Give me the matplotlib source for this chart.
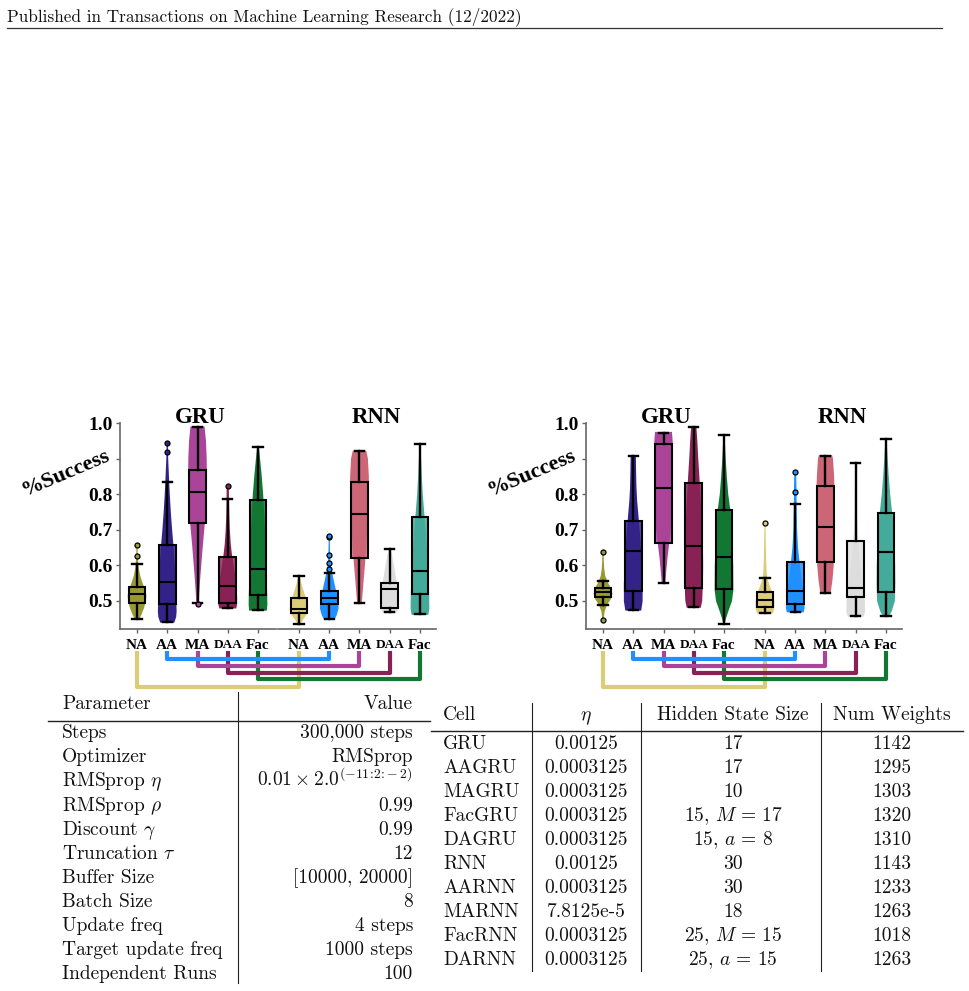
import numpy as np
import matplotlib
matplotlib.use("Agg")
import matplotlib.pyplot as plt
from matplotlib.lines import Line2D
from matplotlib.transforms import ScaledTranslation

plt.rcParams['mathtext.fontset'] = 'cm'
plt.rcParams['font.family'] = ['Liberation Serif', 'DejaVu Serif']
plt.rcParams['font.weight'] = 'bold'
plt.rcParams['axes.formatter.use_mathtext'] = True

# ---------------- data ----------------
HEADER = "Published in Transactions on Machine Learning Research (12/2022)"
METHODS = ['NA', 'AA', 'MA', 'DAA', 'Fac']
GROUPS = ['GRU', 'RNN']
GRU_COLORS = ['#999933', '#332288', '#AA4499', '#882255', '#117733']
RNN_COLORS = ['#DDCC77', '#1E90FF', '#CC6677', '#DDDDDD', '#44AA99']
BRACKET_COLORS = ['#DDCC77', '#1E90FF', '#AA4499', '#882255', '#117733']
Y_TICKS = [0.5, 0.6, 0.7, 0.8, 0.9, 1.0]
Y_TICK_LABELS = ['0.5', '0.6', '0.7', '0.8', '', '1.0']

# Left figure - GRU
L_GRU_MED = [0.520, 0.554, 0.807, 0.542, 0.589]
L_GRU_Q1 = [0.495, 0.491, 0.718, 0.495, 0.517]
L_GRU_Q3 = [0.540, 0.657, 0.868, 0.623, 0.784]
L_GRU_LO = [0.449, 0.441, 0.493, 0.481, 0.475]
L_GRU_HI = [0.603, 0.835, 0.988, 0.786, 0.933]
L_GRU_FLIERS = [[0.626, 0.657], [0.919, 0.943], [0.491], [0.824], []]
L_GRU_VY = [[0.447, 0.46, 0.48, 0.50, 0.515, 0.53, 0.55, 0.57, 0.59, 0.61, 0.63, 0.66],
            [0.439, 0.455, 0.47, 0.50, 0.55, 0.60, 0.65, 0.70, 0.75, 0.80, 0.85, 0.90, 0.946],
            [0.489, 0.52, 0.56, 0.60, 0.65, 0.70, 0.75, 0.80, 0.85, 0.90, 0.95, 0.99],
            [0.479, 0.49, 0.51, 0.54, 0.57, 0.60, 0.63, 0.66, 0.70, 0.74, 0.78, 0.81, 0.828],
            [0.473, 0.49, 0.52, 0.56, 0.60, 0.65, 0.70, 0.75, 0.80, 0.85, 0.90, 0.935]]
L_GRU_VW = [[0.2, 0.45, 0.75, 0.95, 1.0, 0.9, 0.6, 0.35, 0.2, 0.12, 0.08, 0.05],
            [0.75, 0.95, 1.0, 0.97, 0.9, 0.8, 0.68, 0.52, 0.38, 0.27, 0.18, 0.1, 0.06],
            [0.12, 0.18, 0.28, 0.4, 0.55, 0.72, 0.88, 0.97, 1.0, 0.98, 0.9, 0.75],
            [0.9, 1.0, 1.0, 0.92, 0.8, 0.62, 0.45, 0.32, 0.22, 0.16, 0.13, 0.12, 0.08],
            [0.95, 1.0, 0.98, 0.93, 0.88, 0.82, 0.75, 0.66, 0.55, 0.4, 0.22, 0.08]]

# Left figure - RNN
L_RNN_MED = [0.477, 0.508, 0.745, 0.533, 0.584]
L_RNN_Q1 = [0.465, 0.491, 0.622, 0.479, 0.519]
L_RNN_Q3 = [0.5075, 0.528, 0.833, 0.551, 0.737]
L_RNN_LO = [0.436, 0.449, 0.495, 0.468, 0.463]
L_RNN_HI = [0.571, 0.580, 0.921, 0.646, 0.941]
L_RNN_FLIERS = [[], [0.590, 0.608, 0.629, 0.679, 0.683], [], [], []]
L_RNN_VY = [[0.434, 0.45, 0.465, 0.48, 0.50, 0.52, 0.54, 0.56, 0.572],
            [0.448, 0.46, 0.48, 0.50, 0.52, 0.55, 0.58, 0.60, 0.63, 0.66, 0.685],
            [0.494, 0.52, 0.56, 0.60, 0.65, 0.70, 0.75, 0.80, 0.85, 0.90, 0.922],
            [0.466, 0.48, 0.50, 0.53, 0.56, 0.60, 0.63, 0.647],
            [0.461, 0.48, 0.52, 0.56, 0.60, 0.65, 0.70, 0.75, 0.80, 0.85, 0.90, 0.942]]
L_RNN_VW = [[0.1, 0.5, 0.9, 1.0, 0.85, 0.6, 0.35, 0.15, 0.05],
            [0.55, 0.8, 1.0, 0.95, 0.8, 0.55, 0.3, 0.16, 0.09, 0.07, 0.06],
            [0.25, 0.33, 0.45, 0.58, 0.72, 0.84, 0.93, 1.0, 1.0, 0.9, 0.72],
            [0.7, 0.95, 1.0, 0.9, 0.7, 0.45, 0.25, 0.08],
            [0.9, 1.0, 0.98, 0.92, 0.85, 0.72, 0.6, 0.45, 0.3, 0.2, 0.12, 0.05]]

# Right figure - GRU
R_GRU_MED = [0.524, 0.640, 0.817, 0.655, 0.624]
R_GRU_Q1 = [0.510, 0.529, 0.662, 0.5375, 0.533]
R_GRU_Q3 = [0.5375, 0.726, 0.940, 0.831, 0.756]
R_GRU_LO = [0.489, 0.475, 0.551, 0.483, 0.435]
R_GRU_HI = [0.557, 0.908, 0.973, 0.988, 0.966]
R_GRU_FLIERS = [[0.447, 0.639], [], [], [], []]
R_GRU_VY = [[0.444, 0.47, 0.49, 0.505, 0.52, 0.535, 0.55, 0.57, 0.59, 0.61, 0.64],
            [0.473, 0.50, 0.55, 0.60, 0.65, 0.70, 0.75, 0.78, 0.82, 0.87, 0.91],
            [0.549, 0.58, 0.62, 0.66, 0.70, 0.75, 0.80, 0.85, 0.90, 0.95, 0.975],
            [0.481, 0.50, 0.55, 0.60, 0.65, 0.70, 0.75, 0.80, 0.85, 0.90, 0.95, 0.99],
            [0.433, 0.45, 0.47, 0.50, 0.53, 0.60, 0.70, 0.75, 0.80, 0.85, 0.90, 0.967]]
R_GRU_VW = [[0.05, 0.15, 0.4, 0.75, 0.9, 0.8, 0.5, 0.22, 0.12, 0.08, 0.06],
            [0.85, 1.0, 1.0, 0.92, 0.82, 0.68, 0.52, 0.42, 0.34, 0.3, 0.28],
            [0.18, 0.28, 0.42, 0.6, 0.78, 0.9, 0.97, 1.0, 1.0, 0.98, 0.9],
            [0.75, 0.9, 0.98, 1.0, 0.98, 0.9, 0.8, 0.7, 0.6, 0.48, 0.38, 0.28],
            [0.05, 0.2, 0.45, 0.85, 1.0, 0.98, 0.85, 0.7, 0.45, 0.3, 0.18, 0.06]]

# Right figure - RNN
R_RNN_MED = [0.503, 0.528, 0.707, 0.536, 0.639]
R_RNN_Q1 = [0.484, 0.492, 0.610, 0.512, 0.524]
R_RNN_Q3 = [0.524, 0.610, 0.823, 0.669, 0.748]
R_RNN_LO = [0.467, 0.470, 0.523, 0.458, 0.459]
R_RNN_HI = [0.565, 0.773, 0.908, 0.887, 0.955]
R_RNN_FLIERS = [[0.720], [0.807, 0.862], [], [], []]
R_RNN_VY = [[0.465, 0.48, 0.50, 0.52, 0.54, 0.56, 0.58, 0.62, 0.66, 0.70, 0.722],
            [0.468, 0.48, 0.50, 0.52, 0.55, 0.60, 0.65, 0.70, 0.77, 0.82, 0.863],
            [0.522, 0.56, 0.60, 0.65, 0.70, 0.75, 0.80, 0.85, 0.90, 0.91],
            [0.456, 0.47, 0.50, 0.52, 0.55, 0.60, 0.65, 0.70, 0.75, 0.80, 0.888],
            [0.457, 0.47, 0.50, 0.55, 0.60, 0.65, 0.70, 0.75, 0.80, 0.85, 0.90, 0.956]]
R_RNN_VW = [[0.85, 1.0, 1.0, 0.85, 0.55, 0.3, 0.18, 0.12, 0.09, 0.07, 0.06],
            [0.9, 1.0, 0.98, 0.9, 0.75, 0.5, 0.3, 0.2, 0.15, 0.13, 0.1],
            [0.55, 0.75, 0.88, 0.95, 1.0, 1.0, 0.98, 0.92, 0.8, 0.7],
            [0.85, 1.0, 0.98, 0.92, 0.78, 0.5, 0.3, 0.18, 0.12, 0.09, 0.05],
            [0.3, 0.6, 0.95, 1.0, 0.98, 0.92, 0.82, 0.65, 0.45, 0.3, 0.18, 0.06]]

# Tables
PARAM_HEADER = ['Parameter', 'Value']
PARAM_NAMES = ['Steps', 'Optimizer', r'RMSprop $\eta$', r'RMSprop $\rho$',
               r'Discount $\gamma$', r'Truncation $\tau$', 'Buffer Size',
               'Batch Size', 'Update freq', 'Target update freq', 'Independent Runs']
PARAM_VALUES = ['300,000 steps', 'RMSprop', r'$0.01 \times 2.0^{(-11\!:\!2\!:\!-2)}$',
                '0.99', '0.99', '12', '[10000, 20000]', '8', '4 steps',
                '1000 steps', '100']
CELL_HEADER = ['Cell', r'$\eta$', 'Hidden State Size', 'Num Weights']
CELLS = ['GRU', 'AAGRU', 'MAGRU', 'FacGRU', 'DAGRU',
         'RNN', 'AARNN', 'MARNN', 'FacRNN', 'DARNN']
CELL_ETA = ['0.00125', '0.0003125', '0.0003125', '0.0003125', '0.0003125',
            '0.00125', '0.0003125', '7.8125e-5', '0.0003125', '0.0003125']
CELL_HIDDEN = ['17', '17', '10', r'15, $M\,=\,17$', r'15, $a\,=\,8$',
               '30', '30', '18', r'25, $M\,=\,15$', r'25, $a\,=\,15$']
CELL_WEIGHTS = ['1142', '1295', '1303', '1320', '1310',
                '1143', '1233', '1263', '1018', '1263']

# ---------------- layout helpers ----------------
W, H = 970, 991
fig = plt.figure(figsize=(W / 100, H / 100), dpi=100)


def fx(px):
    return px / W


def fy(py):
    return 1 - py / H


def add_ax(x0, x1, y0, y1):
    return fig.add_axes([fx(x0), fy(y1), fx(x1) - fx(x0), (y1 - y0) / H])


YLIM = (0.4213, 1.0)
SPINE_COLOR = '#666666'
CM = 'cmr10'
XT_SIZE = 11
XT_SMALL = 9.5


def draw_group(ax, vy, vw, q1, med, q3, lo, hi, fliers, colors, left_axis):
    pos = np.arange(len(METHODS))
    vp = []
    for y, w, m in zip(vy, vw, med):
        vp.append(dict(coords=np.array(y), vals=np.array(w), mean=m, median=m,
                       min=y[0], max=y[-1]))
    parts = ax.violin(vp, positions=pos, widths=0.62, showmeans=False,
                      showextrema=False, showmedians=False)
    for body, c in zip(parts['bodies'], colors):
        body.set_facecolor(c)
        body.set_edgecolor('none')
        body.set_alpha(1)
        body.set_zorder(1)
    stats = [dict(med=m, q1=a, q3=b, whislo=l, whishi=h, fliers=f)
             for m, a, b, l, h, f in zip(med, q1, q3, lo, hi, fliers)]
    bp = ax.bxp(stats, positions=pos, widths=0.56, capwidths=0.3,
                patch_artist=True, manage_ticks=False, showfliers=True,
                boxprops=dict(edgecolor='black', linewidth=1.5),
                whiskerprops=dict(color='black', linewidth=1.7),
                capprops=dict(color='black', linewidth=1.7),
                medianprops=dict(color='black', linewidth=1.5),
                flierprops=dict(marker='o', markersize=3.6,
                                markeredgecolor='black', markeredgewidth=0.9))
    for box, c in zip(bp['boxes'], colors):
        r, g, b_, _ = matplotlib.colors.to_rgba(c)
        box.set_facecolor((r, g, b_, 0.82))
        box.set_zorder(2)
    for fl, c in zip(bp['fliers'], colors):
        fl.set_markerfacecolor(c)
        fl.set_zorder(3)
    ax.set_ylim(*YLIM)
    ax.set_xticks(pos)
    ax.set_xticklabels(METHODS)
    shift = ScaledTranslation(0, -0.89 * (XT_SIZE - XT_SMALL) / 72, fig.dpi_scale_trans)
    for lbl in ax.get_xticklabels():
        lbl.set_fontweight('bold')
        if lbl.get_text() == 'DAA':
            lbl.set_fontsize(XT_SMALL)
            lbl.set_transform(lbl.get_transform() + shift)
        else:
            lbl.set_fontsize(XT_SIZE)
    ax.tick_params(axis='x', length=3, width=1, color=SPINE_COLOR, pad=4)
    for s in ['top', 'right']:
        ax.spines[s].set_visible(False)
    ax.spines['bottom'].set_color(SPINE_COLOR)
    ax.spines['bottom'].set_linewidth(1.2)
    if left_axis:
        ax.spines['left'].set_color(SPINE_COLOR)
        ax.spines['left'].set_linewidth(1.2)
        ax.set_yticks(Y_TICKS)
        ax.set_yticklabels(Y_TICK_LABELS)
        ax.tick_params(axis='y', length=3, width=1, color=SPINE_COLOR, pad=2,
                       labelsize=14)
        for lbl in ax.get_yticklabels():
            lbl.set_fontweight('bold')
    else:
        ax.spines['left'].set_visible(False)
        ax.set_yticks([])
    ax.patch.set_alpha(0)


def draw_panel(x_left, gru_data, rnn_data):
    axg = add_ax(x_left, x_left + 156, 423, 629)
    axg.set_xlim(-0.562, 4.595)
    draw_group(axg, *gru_data, GRU_COLORS, True)
    axr = add_ax(x_left + 158, x_left + 316, 423, 629)
    axr.set_xlim(-0.694, 4.53)
    draw_group(axr, *rnn_data, RNN_COLORS, False)
    axg.text(2.08, 1.0, GROUPS[0], transform=axg.get_xaxis_transform(),
             ha='center', va='baseline', fontsize=16.5, fontweight='bold')
    axr.text(2.56, 1.0, GROUPS[1], transform=axr.get_xaxis_transform(),
             ha='center', va='baseline', fontsize=16.5, fontweight='bold')
    fig.text(fx(x_left - 54), fy(473), '%Success', rotation=23,
             rotation_mode='anchor', ha='center', va='center',
             fontsize=16, fontweight='bold')
    bottoms = [687, 659, 666, 673, 679]
    order = [0, 4, 3, 2, 1]
    for i in order:
        x1 = axg.transData.transform((i, 0.5))[0]
        x2 = axr.transData.transform((i, 0.5))[0]
        yt, yb = 651, bottoms[i]
        ln = Line2D([fx(x1), fx(x1), fx(x2), fx(x2)],
                    [fy(yt), fy(yb), fy(yb), fy(yt)],
                    transform=fig.transFigure, color=BRACKET_COLORS[i],
                    linewidth=3, solid_joinstyle='round',
                    solid_capstyle='butt')
        fig.add_artist(ln)


draw_panel(120,
           (L_GRU_VY, L_GRU_VW, L_GRU_Q1, L_GRU_MED, L_GRU_Q3, L_GRU_LO, L_GRU_HI, L_GRU_FLIERS),
           (L_RNN_VY, L_RNN_VW, L_RNN_Q1, L_RNN_MED, L_RNN_Q3, L_RNN_LO, L_RNN_HI, L_RNN_FLIERS))
draw_panel(586,
           (R_GRU_VY, R_GRU_VW, R_GRU_Q1, R_GRU_MED, R_GRU_Q3, R_GRU_LO, R_GRU_HI, R_GRU_FLIERS),
           (R_RNN_VY, R_RNN_VW, R_RNN_Q1, R_RNN_MED, R_RNN_Q3, R_RNN_LO, R_RNN_HI, R_RNN_FLIERS))

# ---------------- header ----------------
renderer = fig.canvas.get_renderer()
hdr = fig.text(fx(7), fy(21), HEADER, fontfamily=CM, fontweight='normal',
               fontsize=12, va='baseline', ha='left', color='#111111')
wext = hdr.get_window_extent(renderer).width
hdr.set_fontsize(12 * 514 / wext)
fig.add_artist(Line2D([fx(7), fx(942)], [fy(28), fy(28)], transform=fig.transFigure,
                      color='#333333', linewidth=0.9))


def hline(x0, x1, y, lw=0.9):
    fig.add_artist(Line2D([fx(x0), fx(x1)], [fy(y), fy(y)], transform=fig.transFigure,
                          color='#222222', linewidth=lw))


def vline(x, y0, y1, lw=0.8):
    fig.add_artist(Line2D([fx(x), fx(x)], [fy(y0), fy(y1)], transform=fig.transFigure,
                          color='#222222', linewidth=lw))


def ttext(x, y, s, ha):
    fig.text(fx(x), fy(y + 6.3), s, fontfamily=CM, fontweight='normal',
             fontsize=14, ha=ha, va='baseline', color='#111111')


# ---------------- parameter table ----------------
ttext(62, 703, PARAM_HEADER[0], 'left')
ttext(413, 703, PARAM_HEADER[1], 'right')
hline(48, 430, 721, 1.0)
vline(238, 692, 983)
for i, (n, v) in enumerate(zip(PARAM_NAMES, PARAM_VALUES)):
    y = 732 + 24.1 * i
    ttext(62, y, n, 'left')
    ttext(413, y, v, 'right')

# ---------------- cell table ----------------
ttext(443, 714, CELL_HEADER[0], 'left')
ttext(586, 714, CELL_HEADER[1], 'center')
ttext(733, 714, CELL_HEADER[2], 'center')
ttext(892, 714, CELL_HEADER[3], 'center')
hline(431, 963, 731, 1.0)
for xv in [532, 641, 821]:
    vline(xv, 703, 971)
for i in range(len(CELLS)):
    y = 743 + 24.0 * i
    ttext(443, y, CELLS[i], 'left')
    ttext(586, y, CELL_ETA[i], 'center')
    ttext(733, y, CELL_HIDDEN[i], 'center')
    ttext(892, y, CELL_WEIGHTS[i], 'center')

fig.savefig('out.png', dpi=100, facecolor='white')
